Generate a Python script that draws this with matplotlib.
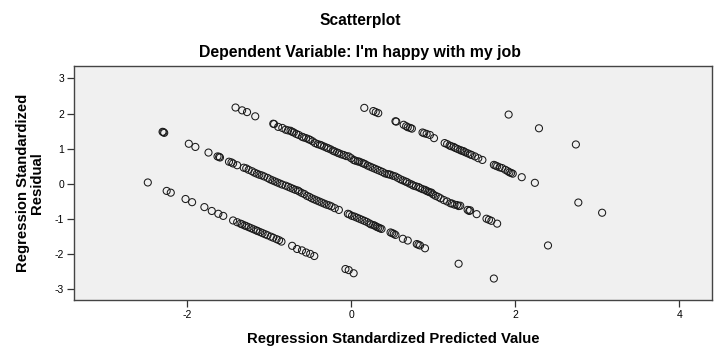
import matplotlib
matplotlib.use("Agg")
import matplotlib.pyplot as plt

plt.rcParams['font.family'] = ['Liberation Sans', 'DejaVu Sans']

title_main = "Scatterplot"
title_sub = "Dependent Variable: I'm happy with my job"
x_label = "Regression Standardized Predicted Value"
y_label = "Regression Standardized\nResidual"
x_ticks = [-2, 0, 2, 4]
y_ticks = [-3, -2, -1, 0, 1, 2, 3]

# band A (lowest diagonal)
band_a_x = [-2.48, -2.25, -2.20, -2.02, -1.94, -1.79, -1.70, -1.62, -1.56,
            -1.44, -1.39, -1.35, -1.33, -1.30, -1.28, -1.25, -1.22, -1.19, -1.16,
            -1.14, -1.11, -1.08, -1.05, -1.02, -0.98, -0.95, -0.91, -0.88, -0.85,
            -0.72, -0.66, -0.60, -0.55, -0.50, -0.45, -0.07, -0.03, 0.03]
band_a_y = [0.04, -0.20, -0.25, -0.43, -0.52, -0.66, -0.77, -0.85, -0.91,
            -1.04, -1.09, -1.13, -1.15, -1.18, -1.20, -1.23, -1.26, -1.29, -1.32,
            -1.34, -1.37, -1.40, -1.43, -1.46, -1.50, -1.53, -1.57, -1.60, -1.64,
            -1.76, -1.85, -1.89, -1.95, -1.99, -2.05, -2.42, -2.45, -2.54]

# band B
band_b_x = [-2.30, -2.29, -2.28, -1.98, -1.90, -1.74, -1.63, -1.61, -1.60,
            -1.49, -1.46, -1.44, -1.39, -1.31, -1.28, -1.25, -1.21, -1.18, -1.15,
            -1.12, -1.09, -1.06, -1.02, -0.99, -0.96, -0.93, -0.90, -0.87, -0.84,
            -0.80, -0.77, -0.74, -0.71, -0.68, -0.65, -0.63, -0.60, -0.57, -0.54,
            -0.51, -0.48, -0.45, -0.42, -0.39, -0.36, -0.33, -0.30, -0.27, -0.24,
            -0.20, -0.15, -0.04, -0.02, 0.01, 0.04, 0.07, 0.10, 0.13, 0.16, 0.19,
            0.22, 0.24, 0.27, 0.29, 0.31, 0.33, 0.35, 0.37, 0.48, 0.50, 0.52, 0.54,
            0.63, 0.69, 0.80, 0.82, 0.84, 0.90, 1.31, 1.74]
band_b_y = [1.48, 1.47, 1.45, 1.14, 1.05, 0.89, 0.78, 0.77, 0.75,
            0.63, 0.61, 0.58, 0.53, 0.46, 0.44, 0.40, 0.36, 0.32, 0.29,
            0.26, 0.24, 0.21, 0.17, 0.13, 0.10, 0.07, 0.04, 0.01, -0.02,
            -0.05, -0.08, -0.11, -0.14, -0.17, -0.19, -0.22, -0.26, -0.29, -0.34,
            -0.37, -0.41, -0.44, -0.47, -0.50, -0.53, -0.56, -0.59, -0.61, -0.64,
            -0.69, -0.74, -0.85, -0.87, -0.91, -0.93, -0.96, -0.99, -1.02, -1.05, -1.08,
            -1.12, -1.15, -1.17, -1.19, -1.22, -1.24, -1.26, -1.28, -1.38, -1.40, -1.42, -1.45,
            -1.56, -1.61, -1.71, -1.73, -1.75, -1.83, -2.27, -2.69]

# band C (central diagonal)
band_c_x = [-1.41, -1.33, -1.27, -1.17, -0.95, -0.94, -0.89, -0.84, -0.80,
            -0.77, -0.74, -0.72, -0.70, -0.67, -0.64, -0.60, -0.58, -0.55, -0.52,
            -0.50, -0.47, -0.44, -0.41, -0.38, -0.36, -0.33, -0.30, -0.28, -0.25,
            -0.22, -0.20, -0.17, -0.15, -0.12, -0.09, -0.06, -0.03, 0.00, 0.03,
            0.05, 0.08, 0.10, 0.13, 0.15, 0.17, 0.20, 0.23, 0.26, 0.29, 0.32,
            0.35, 0.38, 0.41, 0.44, 0.46, 0.48, 0.51, 0.54, 0.57, 0.60, 0.63,
            0.66, 0.68, 0.71, 0.74, 0.76, 0.79, 0.82, 0.84, 0.87, 0.90, 0.92,
            0.94, 0.96, 0.98, 1.00, 1.03, 1.06, 1.09, 1.13, 1.17, 1.21, 1.23,
            1.26, 1.29, 1.31, 1.33, 1.42, 1.44, 1.45, 1.53, 1.65, 1.68, 1.71,
            1.78, 2.40]
band_c_y = [2.17, 2.09, 2.04, 1.92, 1.71, 1.70, 1.62, 1.59, 1.54,
            1.52, 1.51, 1.48, 1.46, 1.42, 1.39, 1.34, 1.32, 1.30, 1.27,
            1.25, 1.21, 1.16, 1.13, 1.11, 1.09, 1.06, 1.03, 1.01, 0.98,
            0.94, 0.92, 0.89, 0.87, 0.84, 0.82, 0.79, 0.78, 0.73, 0.68,
            0.66, 0.64, 0.63, 0.60, 0.58, 0.56, 0.52, 0.49, 0.46, 0.43, 0.40,
            0.37, 0.34, 0.30, 0.28, 0.27, 0.26, 0.23, 0.21, 0.17, 0.13, 0.10,
            0.07, 0.05, 0.01, -0.02, -0.05, -0.07, -0.09, -0.12, -0.15, -0.17, -0.20,
            -0.22, -0.24, -0.25, -0.30, -0.34, -0.37, -0.41, -0.46, -0.50, -0.55, -0.56,
            -0.59, -0.60, -0.63, -0.62, -0.74, -0.77, -0.75, -0.86, -0.99, -1.02, -1.05,
            -1.13, -1.75]

# band D
band_d_x = [0.16, 0.27, 0.30, 0.33, 0.54, 0.55, 0.64, 0.67, 0.69, 0.72, 0.74,
            0.87, 0.89, 0.92, 0.96, 1.01, 1.14, 1.17, 1.20, 1.22, 1.25, 1.27,
            1.30, 1.33, 1.35, 1.37, 1.39, 1.42, 1.45, 1.47, 1.51, 1.55, 1.60,
            1.74, 1.76, 1.78, 1.81, 1.84, 1.88, 1.91, 1.93, 1.95, 1.97,
            2.08, 2.24, 2.77, 3.06]
band_d_y = [2.16, 2.07, 2.04, 2.01, 1.78, 1.77, 1.68, 1.64, 1.61, 1.59, 1.57,
            1.46, 1.44, 1.42, 1.39, 1.30, 1.16, 1.13, 1.09, 1.07, 1.05, 1.02,
            0.99, 0.96, 0.94, 0.93, 0.90, 0.87, 0.84, 0.82, 0.78, 0.73, 0.68,
            0.54, 0.52, 0.50, 0.47, 0.45, 0.40, 0.36, 0.33, 0.31, 0.29,
            0.19, 0.03, -0.53, -0.82]

# band E (top)
band_e_x = [1.92, 2.29, 2.74]
band_e_y = [1.97, 1.58, 1.12]

pred = band_a_x + band_b_x + band_c_x + band_d_x + band_e_x
resid = band_a_y + band_b_y + band_c_y + band_d_y + band_e_y

fig = plt.figure(figsize=(7.2, 3.6), dpi=100)
fig.patch.set_facecolor('white')
ax = fig.add_axes([74/720, 1 - 300/360, (712-74)/720, (300-66)/360])
ax.set_facecolor('#f0f0f0')

ax.scatter(pred, resid, s=26, facecolors='none', edgecolors='#1a1a1a', linewidths=0.75)

ax.set_xlim(-3.38, 4.40)
ax.set_ylim(-3.30, 3.35)
ax.set_xticks(x_ticks)
ax.set_yticks(y_ticks)
ax.set_xticklabels([str(t) for t in x_ticks])
ax.set_yticklabels([str(t) for t in y_ticks])
ax.tick_params(axis='both', direction='out', length=5, width=0.9, color='#333333',
               labelsize=7.5, labelcolor='black', pad=2)
for sp in ax.spines.values():
    sp.set_color('#444444')
    sp.set_linewidth(1.0)

ax.set_xlabel(x_label, fontsize=10.7, fontweight='bold', labelpad=9)
ax.set_ylabel(y_label, fontsize=10.7, fontweight='bold', labelpad=8, linespacing=1.0)

fig.text(0.5, 1 - 20/360, title_main, ha='center', va='center', fontsize=11.2, fontweight='bold')
fig.text(0.5, 1 - 52/360, title_sub, ha='center', va='center', fontsize=11.4, fontweight='bold')

fig.savefig('out.png', dpi=100)
